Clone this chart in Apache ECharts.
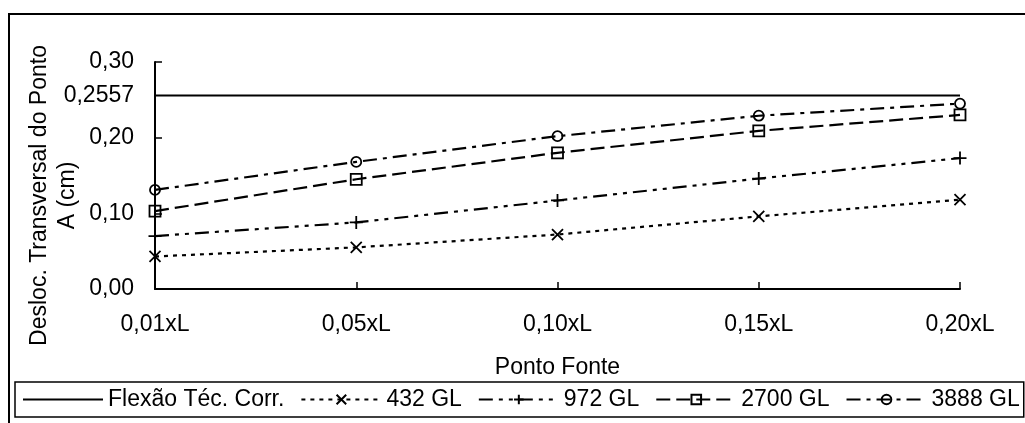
<!DOCTYPE html>
<html>
<head>
<meta charset="utf-8">
<script src="https://cdn.jsdelivr.net/npm/echarts@6/dist/echarts.min.js"></script>
<style>
  html, body { margin: 0; padding: 0; background: #fff; }
  #chart { width: 1025px; height: 423px; }
</style>
</head>
<body>
<div id="chart"></div>
<script>
// Source-point positions along the span
const categories = ['0,01xL', '0,05xL', '0,10xL', '0,15xL', '0,20xL'];

// Transverse displacement of point A (cm)
const flexaoTecCorr = [0.2557, 0.2557, 0.2557, 0.2557, 0.2557];
const gl432  = [0.043, 0.055, 0.072, 0.096, 0.118];
const gl972  = [0.070, 0.088, 0.117, 0.146, 0.173];
const gl2700 = [0.103, 0.145, 0.180, 0.209, 0.230];
const gl3888 = [0.131, 0.168, 0.202, 0.229, 0.245];

// Y-axis tick labels (decimal comma)
const yLabelValues = [0, 0.1, 0.2, 0.2557, 0.3];
const yLabelTexts  = ['0,00', '0,10', '0,20', '0,2557', '0,30'];
const yTickValues  = [0, 0.1, 0.2, 0.3];

const FONT = '"Liberation Sans", Arial, sans-serif';
const FS = 23;

const symX = 'path://M0,0L10,10M10,0L0,10';
const symPlus = 'path://M5,0L5,10M0,5L10,5';
// plain solid stroke used as the legend key of the reference line
const legendSolid = 'path://M0,0L80,0L80,2L0,2Z';

function lineSeries(name, data, dash, symbol, size) {
  return {
    name: name,
    type: 'line',
    data: data,
    symbol: symbol,
    symbolSize: size,
    showSymbol: symbol !== 'none',
    lineStyle: { color: '#000', width: 2.2, type: dash },
    itemStyle: { color: 'transparent', borderColor: '#000', borderWidth: 1.8 },
    emphasis: { disabled: true },
    animation: false
  };
}

const chart = echarts.init(document.getElementById('chart'));
chart.setOption({
  backgroundColor: '#fff',
  animation: false,
  textStyle: { fontFamily: FONT, color: '#000' },
  graphic: [{
    type: 'rect',
    shape: { x: 9, y: 14, width: 1040, height: 440 },
    style: { fill: 'none', stroke: '#000', lineWidth: 2 },
    z: -1
  }],
  grid: { left: 155, right: 65, top: 62, bottom: 134, outerBoundsMode: 'none' },
  legend: {
    left: 15,
    top: 382,
    padding: [6, 4, 6, 8],
    itemGap: 16,
    itemWidth: 80,
    itemHeight: 12,
    symbolKeepAspect: true,
    borderColor: '#000',
    borderWidth: 1.5,
    textStyle: { fontFamily: FONT, fontSize: FS, color: '#000' },
    data: [
      { name: 'Flexão Téc. Corr.', icon: legendSolid, itemStyle: { color: '#000', borderWidth: 0 } },
      '432 GL', '972 GL', '2700 GL', '3888 GL'
    ]
  },
  xAxis: {
    type: 'category',
    data: categories,
    boundaryGap: false,
    name: 'Ponto Fonte',
    nameLocation: 'middle',
    nameGap: 67,
    nameMoveOverlap: false,
    nameTextStyle: { fontFamily: FONT, fontSize: FS, color: '#000' },
    axisLine: { lineStyle: { color: '#000', width: 2 } },
    axisTick: { inside: true, length: 7, lineStyle: { color: '#000', width: 1.5 } },
    axisLabel: { margin: 24, fontFamily: FONT, fontSize: FS, color: '#000' },
    splitLine: { show: false }
  },
  yAxis: {
    type: 'value',
    min: 0,
    max: 0.3,
    interval: 0.1,
    name: 'Desloc. Transversal do Ponto\nA (cm)',
    nameLocation: 'middle',
    nameRotate: 90,
    nameGap: 73,
    nameMoveOverlap: false,
    nameTextStyle: { fontFamily: FONT, fontSize: FS, color: '#000', lineHeight: 28,
                     padding: [0, 40, 0, 0] },
    axisLine: { show: true, lineStyle: { color: '#000', width: 2 } },
    axisTick: { show: true, inside: true, length: 7, customValues: yTickValues,
                lineStyle: { color: '#000', width: 1.5 } },
    axisLabel: {
      margin: 21, fontFamily: FONT, fontSize: FS, color: '#000',
      customValues: yLabelValues,
      formatter: function (v) {
        let best = 0;
        for (let i = 0; i < yLabelValues.length; i++) {
          if (Math.abs(yLabelValues[i] - v) < Math.abs(yLabelValues[best] - v)) best = i;
        }
        return yLabelTexts[best];
      }
    },
    splitLine: { show: false }
  },
  series: [
    lineSeries('Flexão Téc. Corr.', flexaoTecCorr, 'solid', 'none', 0),
    lineSeries('432 GL', gl432, [4, 5], symX, 11),
    lineSeries('972 GL', gl972, [14, 6, 4, 6, 4, 6], symPlus, 13),
    lineSeries('2700 GL', gl2700, [14, 6], 'rect', 11),
    lineSeries('3888 GL', gl3888, [14, 6, 4, 6], 'circle', 10)
  ]
});
</script>
</body>
</html>
